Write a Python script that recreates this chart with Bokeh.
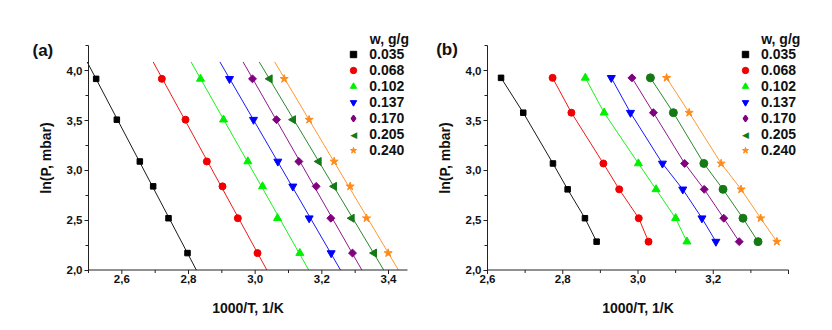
import numpy as np
from bokeh.plotting import figure
from bokeh.layouts import row
from bokeh.models import (Range1d, SingleIntervalTicker, CustomJSTickFormatter,
                          Legend, LegendItem, Label)
from bokeh.embed import file_html
from bokeh.resources import INLINE

# ---------------- data ----------------
w_labels = ["0.035", "0.068", "0.102", "0.137", "0.170", "0.205", "0.240"]

lnP_a = [3.92, 3.51, 3.09, 2.84, 2.52, 2.17]
invT_a_035 = [2.523, 2.585, 2.654, 2.694, 2.740, 2.797]
invT_a_068 = [2.720, 2.791, 2.855, 2.902, 2.948, 3.007]
invT_a_102 = [2.836, 2.905, 2.978, 3.022, 3.067, 3.134]
invT_a_137 = [2.923, 2.995, 3.068, 3.113, 3.162, 3.228]
invT_a_170 = [2.992, 3.064, 3.131, 3.183, 3.227, 3.292]
invT_a_205 = [3.044, 3.114, 3.191, 3.237, 3.290, 3.357]
invT_a_240 = [3.087, 3.162, 3.237, 3.285, 3.334, 3.399]

lnP_b = [3.93, 3.58, 3.07, 2.81, 2.52, 2.285]
invT_b_035 = [2.636, 2.695, 2.774, 2.813, 2.859, 2.890]
invT_b_068 = [2.773, 2.823, 2.908, 2.950, 3.002, 3.028]
invT_b_102 = [2.860, 2.910, 3.001, 3.048, 3.100, 3.130]
invT_b_137 = [2.929, 2.980, 3.065, 3.119, 3.170, 3.207]
invT_b_170 = [2.984, 3.041, 3.124, 3.176, 3.228, 3.269]
invT_b_205 = [3.033, 3.094, 3.175, 3.226, 3.279, 3.319]
invT_b_240 = [3.076, 3.136, 3.221, 3.274, 3.326, 3.369]

invT_a = [invT_a_035, invT_a_068, invT_a_102, invT_a_137, invT_a_170, invT_a_205, invT_a_240]
invT_b = [invT_b_035, invT_b_068, invT_b_102, invT_b_137, invT_b_170, invT_b_205, invT_b_240]

xaxis_a = (2.5, 3.457)
xaxis_b = (2.6, 3.4)
yaxis_ab = (2.0, 4.255)
x_major_step, y_major_step = 0.2, 0.5
fit_lnP_span = [2.0, 4.09]

# ---------------- style ----------------
colors = ["#000000", "#F00000", "#00F000", "#0000FF", "#800080", "#157A15", "#FF8C1A"]
markers_a = ["square", "circle", "triangle", "inverted_triangle", "square", "triangle", "star"]
markers_b = ["square", "circle", "triangle", "inverted_triangle", "square", "circle", "star"]
angles_a = [0, 0, 0, 0, np.pi / 4, np.pi / 2, 0]
angles_b = [0, 0, 0, 0, np.pi / 4, 0, 0]
sizes = [5.5, 7, 8, 8, 5.6, 8, 8.5]
FONT = "Liberation Sans"
AXC = "#222222"
H = 322
AX_TOP, AX_BOTTOM = 45, 269.5
FRAME_TOP = 16

fmt = CustomJSTickFormatter(code="return tick.toFixed(1).replace('.', ',');")


def style_axes(p, xb, yb):
    for ax in (p.xaxis[0], p.yaxis[0]):
        ax.major_label_text_font = FONT
        ax.major_label_text_font_style = "bold"
        ax.major_label_text_font_size = "11.5px"
        ax.major_label_text_color = "#111111"
        ax.axis_label_text_font = FONT
        ax.axis_label_text_font_style = "bold"
        ax.axis_label_text_font_size = "14px"
        ax.axis_label_text_color = "#111111"
        ax.axis_line_color = AXC
        ax.major_tick_line_color = AXC
        ax.minor_tick_line_color = AXC
        ax.major_tick_in = 0
        ax.major_tick_out = 4
        ax.minor_tick_in = 0
        ax.minor_tick_out = 3
        ax.formatter = fmt
        for prop in ("background_fill_color", "major_label_background_fill_color",
                     "axis_label_background_fill_color"):
            try:
                setattr(ax, prop, None)
            except Exception:
                pass
    p.xaxis[0].ticker = SingleIntervalTicker(interval=x_major_step, num_minor_ticks=2)
    p.yaxis[0].ticker = SingleIntervalTicker(interval=y_major_step, num_minor_ticks=2)
    p.xaxis[0].bounds = xb
    p.yaxis[0].bounds = yb
    p.yaxis[0].fixed_location = xb[0]
    p.xaxis[0].fixed_location = yb[0]
    # bottom rule and ticks are drawn as glyphs below
    p.xaxis[0].axis_line_color = None
    p.xaxis[0].major_tick_line_color = None
    p.xaxis[0].minor_tick_line_color = None
    p.xaxis[0].major_label_standoff = 1
    p.yaxis[0].major_label_standoff = 2
    p.xaxis[0].axis_label_standoff = 13
    p.yaxis[0].axis_label_standoff = 10
    p.xaxis[0].axis_label = "1000/T, 1/K"
    p.yaxis[0].axis_label = "ln(P, mbar)"
    p.xgrid.visible = False
    p.ygrid.visible = False
    p.outline_line_color = None


def make_panel(tag, invT, lnP, markers, angles, xb, page_x0, width,
               ax_left, ax_right, frame_left, frame_right, fitted,
               leg_glyph_x, leg_text_x, tag_x, tag_y):
    frame_bottom = H - 2
    xs_per_px = (xb[1] - xb[0]) / (ax_right - ax_left)
    ys_per_px = (yaxis_ab[1] - yaxis_ab[0]) / (AX_BOTTOM - AX_TOP)
    x0 = xb[0] - (ax_left - frame_left) * xs_per_px
    x1 = xb[1] + (frame_right - ax_right) * xs_per_px
    y0 = yaxis_ab[0] - (frame_bottom - AX_BOTTOM) * ys_per_px
    y1 = yaxis_ab[1] + (AX_TOP - FRAME_TOP) * ys_per_px
    p = figure(width=width, height=H, output_backend="svg", toolbar_location=None,
               x_range=Range1d(x0, x1), y_range=Range1d(y0, y1),
               min_border_left=frame_left - page_x0,
               min_border_right=page_x0 + width - frame_right,
               min_border_top=FRAME_TOP, min_border_bottom=H - frame_bottom)
    style_axes(p, xb, yaxis_ab)

    # bottom axis rule and ticks, painted on top of everything
    ybase = yaxis_ab[0]
    p.segment(x0=[xb[0]], y0=[ybase], x1=[xb[1]], y1=[ybase], line_color=AXC,
              line_width=1, level="overlay")
    half = x_major_step / 2
    all_t = np.round(np.arange(np.floor(xb[0] / half) * half, xb[1] + 1e-9, half), 3)
    all_t = all_t[(all_t >= xb[0] - 1e-9) & (all_t <= xb[1] + 1e-9)]
    is_major = np.isclose(np.round(all_t / x_major_step) * x_major_step, all_t)
    maj, mnr = all_t[is_major], all_t[~is_major]
    p.segment(x0=maj, y0=[ybase] * len(maj), x1=maj, y1=[ybase - 4 * ys_per_px] * len(maj),
              line_color=AXC, line_width=1, level="overlay")
    p.segment(x0=mnr, y0=[ybase] * len(mnr), x1=mnr, y1=[ybase - 3 * ys_per_px] * len(mnr),
              line_color=AXC, line_width=1, level="overlay")

    items = []
    for i, lab in enumerate(w_labels):
        xs = invT[i]
        c = colors[i]
        if fitted:
            k, b0 = np.polyfit(lnP, xs, 1)
            yy = np.array(fit_lnP_span)
            p.line(k * yy + b0, yy, line_color=c, line_width=1, line_alpha=0.9)
        else:
            p.line(xs, lnP, line_color=c, line_width=1, line_alpha=0.9)
        r = p.scatter(xs, lnP, marker=markers[i], size=sizes[i], angle=angles[i],
                      fill_color=c, line_color=c)
        if lab == "0.205":
            ghost = p.scatter(xs, lnP, marker="triangle", size=sizes[i],
                              fill_alpha=0, line_alpha=0)
            items.append(LegendItem(label=lab, renderers=[ghost]))
        elif lab == "0.170":
            ghost = p.scatter(xs, lnP, marker="diamond", size=0, fill_color=c,
                              line_color=c, line_width=1.5)
            items.append(LegendItem(label=lab, renderers=[ghost]))
        else:
            items.append(LegendItem(label=lab, renderers=[r]))
    row_h = 16
    first_c = 54
    leg_top = first_c - row_h / 2
    leg_bottom = leg_top + row_h * len(w_labels)
    vx = leg_glyph_x - 10 - frame_left
    leg = Legend(items=items, location=(vx, frame_bottom - leg_bottom), padding=0, margin=0,
                 spacing=0, glyph_width=20, glyph_height=row_h, label_height=row_h,
                 label_standoff=int(round(leg_text_x - leg_glyph_x - 10)),
                 label_text_font=FONT,
                 label_text_font_style="bold", label_text_font_size="14px",
                 label_text_color="#111111",
                 border_line_alpha=0, background_fill_alpha=0)
    p.add_layout(leg)
    p.add_layout(Label(x=leg_glyph_x - frame_left, y=frame_bottom - (first_c + 5 * row_h),
                       x_units="screen", y_units="screen", text="\u25C0",
                       text_font="DejaVu Sans", text_font_size="9px", text_color=colors[5],
                       text_align="center", text_baseline="middle"))
    p.add_layout(Label(x=leg_text_x - frame_left, y=frame_bottom - 38.3, x_units="screen",
                       y_units="screen", text="w, g/g", text_font=FONT,
                       text_font_style="bold", text_font_size="14px", text_color="#111111",
                       text_align="left", text_baseline="middle"))
    p.add_layout(Label(x=tag_x - frame_left, y=frame_bottom - tag_y, x_units="screen",
                       y_units="screen", text=tag, text_font=FONT, text_font_style="bold",
                       text_font_size="17px", text_color="#111111",
                       text_align="left", text_baseline="middle"))
    return p


pa = make_panel("(a)", invT_a, lnP_a, markers_a, angles_a, xaxis_a, 0, 428,
                88, 407, 16, 426, True, 353.3, 369.3, 32, 49.5)
pb = make_panel("(b)", invT_b, lnP_b, markers_b, angles_b, xaxis_b, 428, 396,
                487, 788, 430, 822, False, 745, 760.7, 435.7, 49)

layout = row(pa, pb)
open("out.html", "w").write(file_html(layout, INLINE))
